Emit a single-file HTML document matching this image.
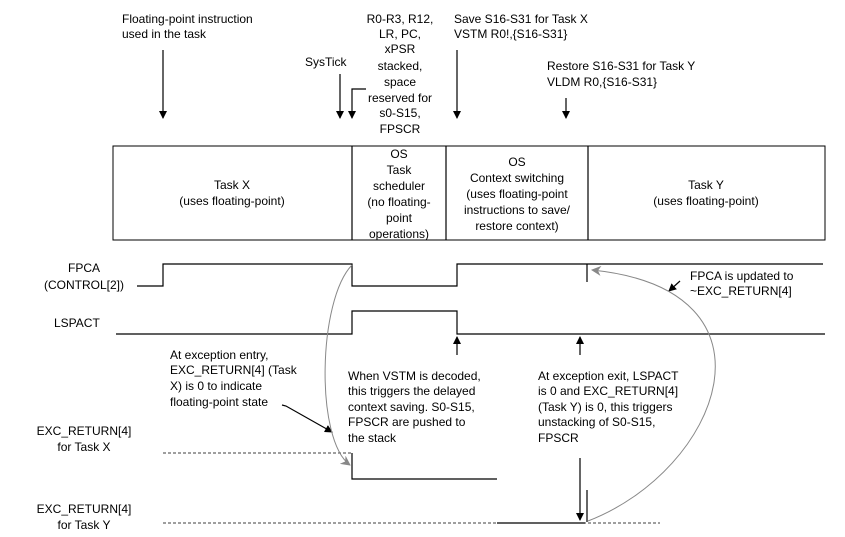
<!DOCTYPE html>
<html><head><meta charset="utf-8"><style>
html,body{margin:0;padding:0;background:#fff;}
svg{display:block;font-family:"Liberation Sans",Arial,sans-serif;font-size:12px;}
</style></head><body>
<svg width="845" height="537" viewBox="0 0 845 537">
<defs>
<marker id="a" markerWidth="8" markerHeight="8" refX="7" refY="4" orient="auto" markerUnits="userSpaceOnUse"><path d="M0,0L8,4L0,8z" fill="#000"/></marker>
<marker id="g" markerWidth="10" markerHeight="10" refX="9" refY="5" orient="auto" markerUnits="userSpaceOnUse"><path d="M0,0L10,5L0,10L3,5z" fill="#888"/></marker>
</defs>
<g fill="#000">
<text x="122" y="23">Floating-point instruction</text>
<text x="122" y="38">used in the task</text>
<text x="305" y="66">SysTick</text>
<g text-anchor="middle">
<text x="400" y="23">R0-R3, R12,</text>
<text x="400" y="38">LR, PC,</text>
<text x="400" y="53">xPSR</text>
<text x="400" y="70">stacked,</text>
<text x="400" y="86">space</text>
<text x="400" y="102">reserved for</text>
<text x="400" y="117">s0-S15,</text>
<text x="400" y="133">FPSCR</text>
</g>
<text x="454" y="23">Save S16-S31 for Task X</text>
<text x="454" y="38">VSTM R0!,{S16-S31}</text>
<text x="547" y="70">Restore S16-S31 for Task Y</text>
<text x="547" y="86">VLDM R0,{S16-S31}</text>
</g>
<g stroke="#000" stroke-width="1.2" fill="none">
<line x1="163" y1="50" x2="163" y2="118" marker-end="url(#a)"/>
<line x1="340" y1="74" x2="340" y2="118" marker-end="url(#a)"/>
<polyline points="366,89 352,89 352,118" marker-end="url(#a)"/>
<line x1="457" y1="50" x2="457" y2="118" marker-end="url(#a)"/>
<line x1="566" y1="98" x2="566" y2="118" marker-end="url(#a)"/>
<rect x="113" y="146" width="712" height="94" stroke-width="1"/>
<line x1="352" y1="146" x2="352" y2="240"/>
<line x1="446" y1="146" x2="446" y2="240"/>
<line x1="588" y1="146" x2="588" y2="240"/>
</g>
<g text-anchor="middle" fill="#000">
<text x="232" y="189">Task X</text>
<text x="232" y="205">(uses floating-point)</text>
<text x="399" y="158">OS</text>
<text x="399" y="174">Task</text>
<text x="399" y="190">scheduler</text>
<text x="399" y="206">(no floating-</text>
<text x="399" y="222">point</text>
<text x="399" y="238">operations)</text>
<text x="517" y="166">OS</text>
<text x="517" y="182">Context switching</text>
<text x="517" y="198">(uses floating-point</text>
<text x="517" y="214">instructions to save/</text>
<text x="517" y="230">restore context)</text>
<text x="706" y="189">Task Y</text>
<text x="706" y="205">(uses floating-point)</text>
<text x="84" y="272">FPCA</text>
<text x="84" y="289">(CONTROL[2])</text>
<text x="84" y="435">EXC_RETURN[4]</text>
<text x="84" y="451" >for Task X</text>
<text x="84" y="513">EXC_RETURN[4]</text>
<text x="84" y="529">for Task Y</text>
</g>
<g fill="#000">
<text x="54" y="327">LSPACT</text>
<text x="690" y="280">FPCA is updated to</text>
<text x="690" y="295">~EXC_RETURN[4]</text>
<text x="170" y="359">At exception entry,</text>
<text x="170" y="374">EXC_RETURN[4] (Task</text>
<text x="170" y="390">X) is 0 to indicate</text>
<text x="170" y="406">floating-point state</text>
<text x="348" y="380">When VSTM is decoded,</text>
<text x="348" y="395">this triggers the delayed</text>
<text x="348" y="411">context saving. S0-S15,</text>
<text x="348" y="426">FPSCR are pushed to</text>
<text x="348" y="442">the stack</text>
<text x="538" y="380">At exception exit, LSPACT</text>
<text x="538" y="395">is 0 and  EXC_RETURN[4]</text>
<text x="538" y="411">(Task Y) is 0, this triggers</text>
<text x="538" y="426">unstacking of S0-S15,</text>
<text x="538" y="442">FPSCR</text>
</g>
<g stroke="#000" stroke-width="1.2" fill="none">
<polyline points="137,286 163,286 163,264 352,264 352,286 457,286 457,264 823,264"/>
<line x1="587" y1="264" x2="587" y2="282"/>
<polyline points="116,334 352,334 352,311 457,311 457,334 825,334"/>
<line x1="457" y1="355" x2="457" y2="337" marker-end="url(#a)"/>
<line x1="580" y1="355" x2="580" y2="337" marker-end="url(#a)"/>
<line x1="680" y1="281" x2="669" y2="291" marker-end="url(#a)"/>
<polyline points="282,405 286,406 332,432" marker-end="url(#a)"/>
<line x1="163" y1="453" x2="352" y2="453" stroke-dasharray="3,2" stroke-width="0.8"/>
<polyline points="352,453 352,479 497,479"/>
<line x1="163" y1="523" x2="660" y2="523" stroke-dasharray="3,2" stroke-width="0.8"/>
<line x1="497" y1="523" x2="585" y2="523"/>
<line x1="580" y1="458" x2="580" y2="520" marker-end="url(#a)"/>
<line x1="587" y1="490" x2="587" y2="522"/>
</g>
<g stroke="#888" stroke-width="1" fill="none">
<path d="M352,265 C318,300 315,440 350,465" marker-end="url(#g)"/>
<path d="M588,521 C720,470 790,290 592,270" marker-end="url(#g)"/>
</g>
</svg>
</body></html>
